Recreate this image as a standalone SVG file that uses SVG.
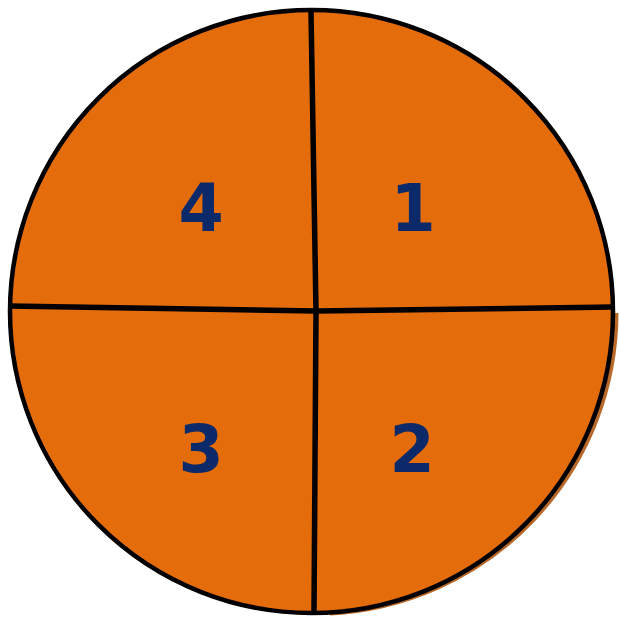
<svg xmlns="http://www.w3.org/2000/svg" width="619" height="617" viewBox="0 0 619 617">
<style>
.num{font-family:"DejaVu Sans","Open Sans",sans-serif;font-weight:700;font-size:65px;fill:#0c2a6a;text-anchor:middle}
.div{stroke:#000;stroke-width:5.5;fill:none;stroke-linecap:butt}
</style>
<rect width="619" height="617" fill="#fff"/>
<path d="M 616 313 A 301.5 301.5 0 0 1 330 613" fill="none" stroke="#b8692a" stroke-width="5"/>
<circle cx="311.5" cy="311.5" r="301.5" fill="#e46c0a" stroke="#000" stroke-width="4.5"/>
<g id="dividers">
<polyline class="div" points="311,11 316,311 314,613"/>
<polyline class="div" points="9,306 316,311 614,307"/>
</g>
<g id="q1"><text class="num" x="413" y="231">1</text></g>
<g id="q2"><text class="num" x="412" y="472">2</text></g>
<g id="q3"><text class="num" x="201" y="472">3</text></g>
<g id="q4"><text class="num" x="201" y="231">4</text></g>
</svg>
